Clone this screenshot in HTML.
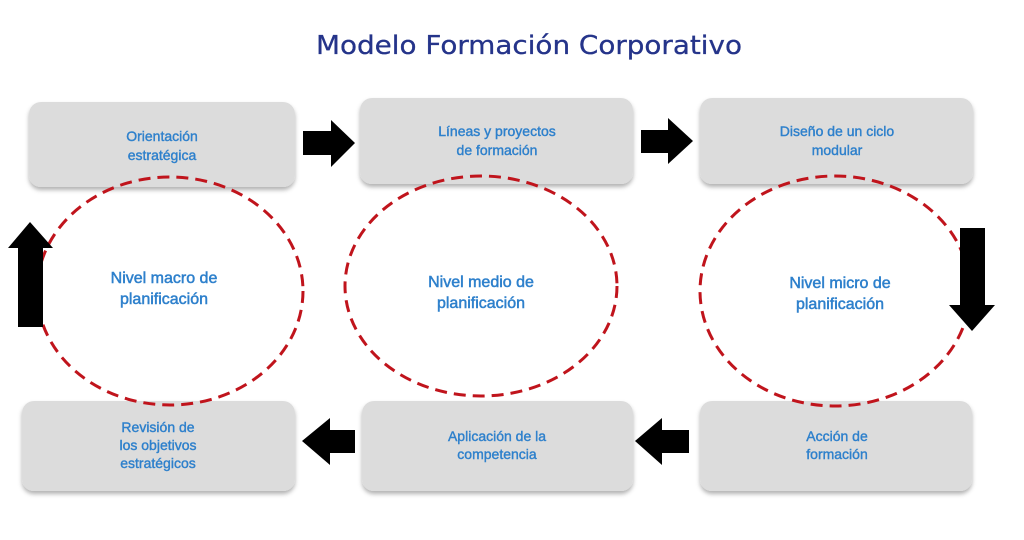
<!DOCTYPE html>
<html><head><meta charset="utf-8"><style>
html,body{margin:0;padding:0;background:#fff;width:1024px;height:540px;overflow:hidden}
</style></head><body>
<svg width="1024" height="540" viewBox="0 0 1024 540" xmlns="http://www.w3.org/2000/svg" font-family="Liberation Sans, DejaVu Sans, sans-serif">
<defs>
<filter id="sh" x="-10%" y="-10%" width="120%" height="130%"><feDropShadow dx="0" dy="3" stdDeviation="2" flood-color="#000" flood-opacity="0.3"/></filter>
</defs>
<text x="529" y="54" text-anchor="middle" font-family="DejaVu Sans, sans-serif" font-size="26" fill="#25348a" stroke="#25348a" stroke-width="0.3" textLength="426" lengthAdjust="spacingAndGlyphs">Modelo Formación Corporativo</text>
<g fill="#dcdcdc" filter="url(#sh)">
<rect x="29" y="102" width="266" height="85" rx="12"/>
<rect x="360" y="98" width="273" height="86" rx="12"/>
<rect x="700" y="98" width="273" height="86" rx="12"/>
<rect x="22" y="401" width="273" height="90" rx="12"/>
<rect x="362" y="401" width="271" height="90" rx="12"/>
<rect x="700" y="401" width="272" height="90" rx="12"/>
</g>
<g fill="#2e80cc" stroke="#2e80cc" stroke-width="0.4" font-size="14" text-anchor="middle">
<text x="162" y="141">Orientación</text><text x="162" y="160">estratégica</text>
<text x="497" y="136">Líneas y proyectos</text><text x="497" y="155">de formación</text>
<text x="837" y="136">Diseño de un ciclo</text><text x="837" y="155">modular</text>
<text x="158" y="432">Revisión de</text><text x="158" y="450">los objetivos</text><text x="158" y="468">estratégicos</text>
<text x="497" y="441">Aplicación de la</text><text x="497" y="459">competencia</text>
<text x="837" y="441">Acción de</text><text x="837" y="459">formación</text>
</g>
<g fill="none" stroke="#c0141c" stroke-width="3" stroke-dasharray="12,7">
<ellipse cx="170" cy="291" rx="133" ry="114"/>
<ellipse cx="481" cy="286" rx="136" ry="110"/>
<ellipse cx="835" cy="291" rx="135" ry="115"/>
</g>
<g fill="#000">
<polygon points="303,131 331,131 331,120 355,143 331,167 331,155 303,155"/>
<polygon points="641,130 668,130 668,118 693,141 668,164 668,153 641,153"/>
<polygon points="960,228 985,228 985,305 995,305 972,331 949,305 960,305"/>
<polygon points="18,327 43,327 43,248 53,248 30,222 8,248 18,248"/>
<polygon points="355,430 330,430 330,418 302,441 330,465 330,453 355,453"/>
<polygon points="689,430 662,430 662,418 635,441 662,465 662,453 689,453"/>
</g>
<g fill="#2e80cc" stroke="#2e80cc" stroke-width="0.5" font-size="16" text-anchor="middle">
<text x="164" y="283">Nivel macro de</text><text x="164" y="304">planificación</text>
<text x="481" y="287">Nivel medio de</text><text x="481" y="308">planificación</text>
<text x="840" y="288">Nivel micro de</text><text x="840" y="309">planificación</text>
</g>
</svg>
</body></html>
